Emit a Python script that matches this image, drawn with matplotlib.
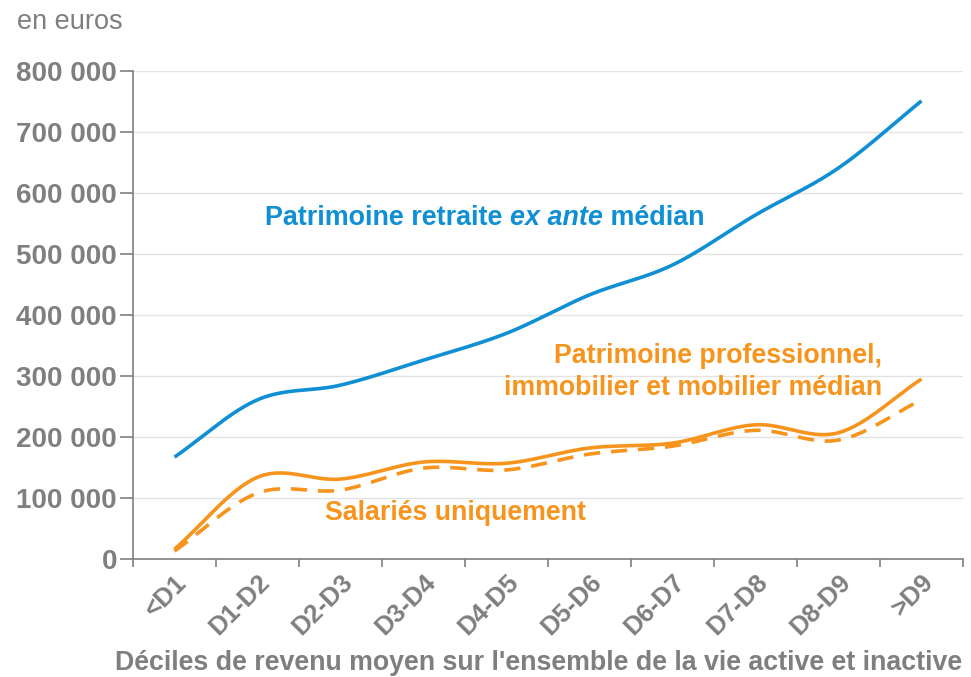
import numpy as np
import matplotlib
matplotlib.use("Agg")
import matplotlib.pyplot as plt
from matplotlib.ticker import FuncFormatter, FixedLocator

categories = ["<D1", "D1-D2", "D2-D3", "D3-D4", "D4-D5", "D5-D6", "D6-D7", "D7-D8", "D8-D9", ">D9"]
retraite = [167000, 261000, 285000, 326000, 370000, 433000, 482000, 564000, 641000, 751000]
patrimoine = [16000, 134000, 131000, 159000, 157000, 182000, 190000, 220000, 207000, 295000]
salaries = [13000, 108000, 113000, 149000, 146000, 172000, 185000, 211000, 195000, 261000]
yticks = [0, 100000, 200000, 300000, 400000, 500000, 600000, 700000, 800000]

BLUE = "#0f8fd4"
ORANGE = "#f7941d"
GRAY = "#7f7f7f"
FONT = "Liberation Sans"

def smooth(xs, ys, n=30):
    xs = np.asarray(xs, float); ys = np.asarray(ys, float)
    px = np.concatenate([[2*xs[0]-xs[1]], xs, [2*xs[-1]-xs[-2]]])
    py = np.concatenate([[2*ys[0]-ys[1]], ys, [2*ys[-1]-ys[-2]]])
    ox, oy = [], []
    for i in range(1, len(px)-2):
        t = np.linspace(0, 1, n, endpoint=False)
        p0, p1, p2, p3 = py[i-1], py[i], py[i+1], py[i+2]
        y = 0.5*((2*p1) + (-p0+p2)*t + (2*p0-5*p1+4*p2-p3)*t**2 + (-p0+3*p1-3*p2+p3)*t**3)
        ox.append(px[i] + (px[i+1]-px[i])*t); oy.append(y)
    ox.append([xs[-1]]); oy.append([ys[-1]])
    return np.concatenate(ox), np.concatenate(oy)

fig = plt.figure(figsize=(9.71, 6.77), dpi=100)
ax = fig.add_axes([133/971, 1-559/677, (963-133)/971, (559-71)/677])

x = np.arange(len(categories))
sx, sy = smooth(x, retraite)
ax.plot(sx, sy, color=BLUE, lw=2.6, solid_capstyle="butt")
sx, sy = smooth(x, patrimoine)
ax.plot(sx, sy, color=ORANGE, lw=2.6, solid_capstyle="butt")
sx, sy = smooth(x, salaries)
ax.plot(sx, sy, color=ORANGE, lw=2.6, dashes=(4.5, 3))

ax.set_xlim(-0.5, len(categories)-0.5)
ax.set_ylim(0, 800000)
ax.set_yticks(yticks)
ax.yaxis.set_major_formatter(FuncFormatter(lambda v, p: f"{int(v):,}".replace(",", " ")))
ax.grid(axis="y", color="#e3e3e3", lw=1.0)
ax.set_axisbelow(True)

ax.set_xticks(x)
ax.set_xticklabels(categories, rotation=45, ha="right", rotation_mode="anchor")
ax.tick_params(axis="x", which="major", length=0, pad=8)
ax.xaxis.set_minor_locator(FixedLocator(np.arange(-0.5, len(categories), 1.0)))
ax.tick_params(axis="x", which="minor", length=6, color=GRAY, width=1.2)
ax.tick_params(axis="y", length=9.5, color=GRAY, width=1.2, pad=2)

for lab in ax.get_yticklabels():
    lab.set_fontfamily(FONT); lab.set_fontweight("bold"); lab.set_color(GRAY); lab.set_fontsize(20)
for lab in ax.get_xticklabels():
    lab.set_fontfamily(FONT); lab.set_fontweight("bold"); lab.set_color(GRAY); lab.set_fontsize(18.5)

for s in ["top", "right"]:
    ax.spines[s].set_visible(False)
for s in ["left", "bottom"]:
    ax.spines[s].set_color(GRAY)
    ax.spines[s].set_linewidth(1.2)

fig.text(539/971, 1-663/677, "Déciles de revenu moyen sur l'ensemble de la vie active et inactive",
         fontfamily=FONT, fontweight="bold", color=GRAY, fontsize=19.3, ha="center", va="center")

fig.text(17/971, 1-22/677, "en euros", fontfamily=FONT, color=GRAY, fontsize=19.5, va="center", ha="left")

# Blue label with italic part
fig.canvas.draw()
r = fig.canvas.get_renderer()
xpos = 265
parts = [("Patrimoine retraite ", "normal"), ("ex ante", "italic"), (" médian", "normal")]
for txt, style in parts:
    t = fig.text(xpos/971, 1-218/677, txt, fontfamily=FONT, fontweight="bold", fontstyle=style,
                 color=BLUE, fontsize=19.4, va="center", ha="left")
    bb = t.get_window_extent(renderer=r)
    xpos += bb.width

fig.text(882/971, 1-356/677, "Patrimoine professionnel,", fontfamily=FONT, fontweight="bold",
         color=ORANGE, fontsize=19.3, va="center", ha="right")
fig.text(882/971, 1-388/677, "immobilier et mobilier médian", fontfamily=FONT, fontweight="bold",
         color=ORANGE, fontsize=19.3, va="center", ha="right")
fig.text(325/971, 1-513/677, "Salariés uniquement", fontfamily=FONT, fontweight="bold",
         color=ORANGE, fontsize=19.3, va="center", ha="left")

fig.savefig("out.png", dpi=100)
